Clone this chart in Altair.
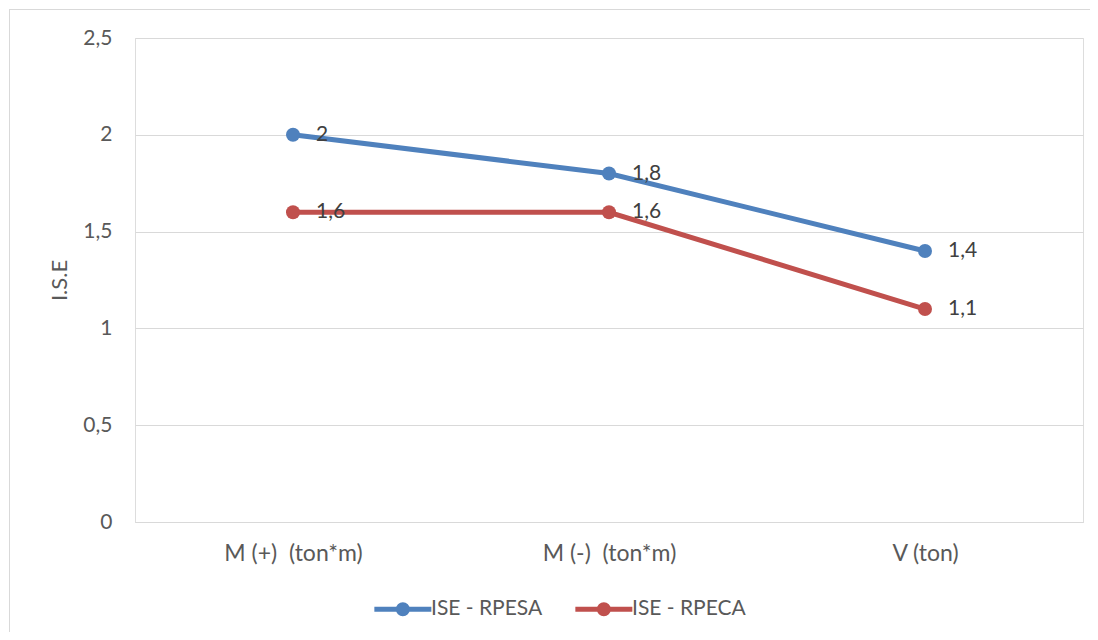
import altair as alt
import pandas as pd

categories = ["M (+)  (ton*m)", "M (-)  (ton*m)", "V (ton)"]
series_names = ["ISE - RPESA", "ISE - RPECA"]
rpesa = [2.0, 1.8, 1.4]
rpeca = [1.6, 1.6, 1.1]
colors = ["#4F81BD", "#C0504D"]
y_ticks = [0, 0.5, 1, 1.5, 2, 2.5]

rows = []
for s, vals in zip(series_names, [rpesa, rpeca]):
    for c, v in zip(categories, vals):
        rows.append({"cat": c, "series": s, "value": v})
df = pd.DataFrame(rows)

FONT = "Lato"
FS = 21
GRID = "#d9d9d9"
LABEL = "#595959"
W, H = 948, 484

sym_path = ("M-0.9,0L1.1,0M-0.058,0A0.158,0.158,0,1,1,0.258,0"
            "A0.158,0.158,0,1,1,-0.058,0Z")

leg = dict(title=None, orient="none", legendX=234, legendY=540,
           direction="horizontal", symbolType=sym_path, symbolSize=3249,
           symbolStrokeWidth=5, labelFont=FONT, labelFontSize=FS,
           labelColor=LABEL, labelOffset=0, columnPadding=22)

x_enc = alt.X(
    "cat:N", sort=categories,
    scale=alt.Scale(type="point", padding=0.5),
    axis=alt.Axis(title=None, ticks=False, domain=True, domainColor=GRID,
                  labelAngle=0, labelPadding=20, labelFont=FONT,
                  labelFontSize=23, labelColor=LABEL,
                  labelExpr="replace(datum.label, '  ', '\u00a0 ')"),
)
y_enc = alt.Y(
    "value:Q",
    scale=alt.Scale(domain=[0, 2.5], nice=False, zero=True),
    axis=alt.Axis(values=y_ticks, title="I.S.E", grid=True, gridColor=GRID,
                  gridWidth=1, domain=False, ticks=False, labelPadding=23,
                  labelFont=FONT, labelFontSize=FS, labelColor=LABEL,
                  labelExpr="replace(format(datum.value, '.1~f'), '.', ',')",
                  titleFont=FONT, titleFontSize=22, titleFontWeight="normal",
                  titleColor=LABEL, titlePadding=11),
)
col_scale = alt.Scale(domain=series_names, range=colors)

base = alt.Chart(df)
lines = base.mark_line(strokeWidth=5, strokeCap="round").encode(
    x=x_enc, y=y_enc,
    stroke=alt.Stroke("series:N", scale=col_scale, legend=alt.Legend(**leg)),
)
points = base.mark_point(filled=True, size=196, opacity=1).encode(
    x=x_enc, y=y_enc,
    fill=alt.Fill("series:N", scale=col_scale, legend=alt.Legend(**leg)),
)
labels = base.mark_text(align="left", baseline="middle", dx=23, font=FONT,
                        fontSize=FS, color="#404040").transform_calculate(
    lbl="replace(format(datum.value, '.1~f'), '.', ',')"
).encode(x=x_enc, y=y_enc, text="lbl:N")

frame_df = pd.DataFrame({"k": [0]})
frame_top = alt.Chart(frame_df).mark_rule(stroke=GRID, strokeWidth=1).encode(
    x=alt.value(-126), x2=alt.value(2000), y=alt.value(-28.5))
frame_left = alt.Chart(frame_df).mark_rule(stroke=GRID, strokeWidth=1).encode(
    x=alt.value(-125.5), y=alt.value(-29), y2=alt.value(2000))

chart = alt.layer(frame_top, frame_left, lines, points, labels).properties(
    width=W, height=H,
    autosize=alt.AutoSizeParams(type="none"),
    padding={"left": 127, "top": 30, "right": 7, "bottom": 110},
).configure_view(stroke=None).configure(background="white")

chart.save("out.html", embed_options={"renderer": "svg", "actions": False})
